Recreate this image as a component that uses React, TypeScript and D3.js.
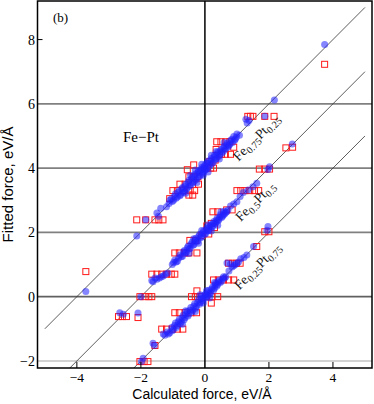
import React from "react";
import * as d3 from "d3";

type P = [number, number];

// Composition groups, shifted vertically for clarity
const groupNames = ["Fe0.75Pt0.25", "Fe0.5Pt0.5", "Fe0.25Pt0.75"];
const groupOffsets = [4, 2, 0];

// [calculated force, fitted force] (unshifted)
const blueA: P[] = [[3.74,3.85],[2.17,2.12],[1.87,1.61],[1.38,1.48],[1.32,1.40],[1.28,1.52],[1.08,1.02],[1.0,1.06],[0.95,0.9],[0.9,0.98],[0.86,0.8],[0.8,0.86],[0.75,0.7],[0.7,0.78],[0.66,0.62],[0.6,0.68],[0.56,0.5],[0.5,0.58],[0.46,0.4],[0.4,0.5],[0.36,0.3],[0.3,0.4],[0.26,0.18],[0.2,0.3],[0.16,0.1],[0.1,0.22],[0.06,-0.02],[0.0,0.1],[-0.04,-0.12],[-0.1,0.02],[-0.14,-0.22],[-0.2,-0.08],[-0.24,-0.3],[-0.3,-0.18],[-0.34,-0.42],[-0.4,-0.28],[-0.44,-0.52],[-0.5,-0.38],[-0.54,-0.6],[-0.6,-0.5],[-0.64,-0.72],[-0.7,-0.6],[-0.76,-0.82],[-0.8,-0.7],[-0.86,-0.9],[-0.92,-0.8],[-0.98,-1.0],[-1.05,-0.95],[-1.12,-1.1],[-1.2,-1.2],[-1.38,-1.25],[-1.45,-1.5],[-1.5,-1.4],[-1.85,-1.61],[-2.13,-2.11],[-3.72,-3.84],
  [0.98,0.96],[0.92,0.86],[0.84,0.9],[0.78,0.74],[0.72,0.66],[0.68,0.72],[0.62,0.56],[0.58,0.62],[0.52,0.46],[0.48,0.52],[0.42,0.36],[0.38,0.44],[0.32,0.26],[0.28,0.34],[0.22,0.14],[0.18,0.24],[0.12,0.04],[0.08,0.14],[0.02,-0.06],[-0.02,0.04],[-0.08,-0.16],[-0.12,-0.04],[-0.18,-0.26],[-0.22,-0.14],[-0.28,-0.36],[-0.32,-0.24],[-0.38,-0.46],[-0.42,-0.34],[-0.48,-0.56],[-0.52,-0.44],[-0.58,-0.66],[-0.62,-0.56],[-0.68,-0.76],[-0.72,-0.64],[-0.78,-0.86],[-0.84,-0.76],[-0.9,-0.94],[-0.96,-0.88],[-1.02,-1.04],[-1.1,-1.0],[0.06,0.16],[-0.06,-0.02],[0.0,-0.04],[-0.16,-0.12],
  [0.2,0.4],[0.1,-0.12],[-0.1,0.12],[-0.05,-0.22],[0.35,0.52],[-0.3,-0.06],[-0.25,-0.45],[0.45,0.28],[-0.45,-0.22],[-0.6,-0.78],[0.6,0.8]];
const redA: P[] = [[3.74,3.23],[1.34,1.61],[1.42,1.61],[1.5,1.61],[1.87,1.61],[2.16,1.61],[0.37,0.82],[0.5,0.82],[0.65,0.82],[0.78,0.82],[0.52,0.43],[0.64,0.43],[0.8,0.43],[0.06,0.0],[0.18,0.0],[0.27,0.0],[-0.35,0.1],[-0.5,-0.27],[-0.36,-0.27],[-0.22,-0.27],[0.15,0.2],[0.32,0.25],[-0.55,-0.05],[-0.78,-0.5],[-0.62,-0.5],[-0.2,-0.5],[-1.0,-0.7],[-0.86,-0.7],[-0.68,-0.7],[-0.46,-0.7],[-0.32,-0.7],[-0.5,-0.84],[-0.38,-0.84],[-2.13,-1.61],[-1.85,-1.61],[-1.56,-1.61],[-1.44,-1.61],[-1.31,-1.61],[-3.72,-3.22],[-1.1,-0.95],[0.9,0.65],[0.35,0.58]];

const blueB: P[] = [[2.73,2.75],[2.02,2.04],[1.97,1.96],[1.62,1.53],[1.5,1.42],[1.35,1.32],[1.2,1.24],[1.1,1.12],[1.0,0.95],[0.9,0.88],[0.8,0.82],[0.72,0.7],[0.65,0.62],[0.6,0.66],[0.55,0.5],[0.48,0.55],[0.44,0.4],[0.38,0.44],[0.34,0.3],[0.28,0.34],[0.24,0.18],[0.18,0.24],[0.12,0.06],[0.06,0.14],[0.02,-0.04],[-0.04,0.04],[-0.1,-0.14],[-0.16,-0.06],[-0.22,-0.26],[-0.28,-0.18],[-0.34,-0.38],[-0.4,-0.3],[-0.46,-0.5],[-0.52,-0.42],[-0.58,-0.62],[-0.64,-0.56],[-0.7,-0.74],[-0.78,-0.7],[-0.86,-0.9],[-0.94,-0.86],[-1.02,-1.0],[-1.16,-1.26],[-1.3,-1.36],[-1.42,-1.42],[-1.56,-1.42],[-1.62,-1.54],[-1.66,-1.5],[-2.0,-2.0],[-2.09,-2.51],[-2.66,-2.5],[-2.55,-2.55],
  [0.68,0.64],[0.62,0.58],[0.58,0.54],[0.52,0.46],[0.46,0.48],[0.41,0.36],[0.36,0.38],[0.31,0.26],[0.26,0.28],[0.21,0.16],[0.15,0.18],[0.09,0.04],[0.04,0.08],[-0.01,-0.06],[-0.07,-0.02],[-0.13,-0.16],[-0.19,-0.12],[-0.25,-0.28],[-0.31,-0.24],[-0.37,-0.4],[-0.43,-0.36],[-0.49,-0.52],[-0.55,-0.48],[-0.61,-0.64],[-0.67,-0.6],[-0.74,-0.76],[-0.82,-0.8],[-0.9,-0.92],[-0.98,-0.94],[-1.24,-1.3],[-1.36,-1.38],[-1.5,-1.46],
  [0.1,0.24],[-0.1,0.06],[0.2,0.04],[-0.2,-0.34],[-0.35,-0.2],[0.4,0.22],[-0.5,-0.66],[0.5,0.64]];
const redB: P[] = [[2.53,2.63],[2.74,2.65],[1.7,1.97],[1.87,1.97],[2.02,1.97],[1.0,1.3],[1.12,1.3],[1.25,1.3],[1.4,1.3],[1.55,1.3],[1.68,1.3],[0.68,0.7],[0.85,0.7],[0.25,0.64],[0.4,0.64],[0.06,0.2],[0.2,0.28],[0.3,0.15],[-0.1,-0.1],[0.12,-0.05],[-0.47,-0.25],[-0.3,-0.25],[-0.94,-0.64],[-0.8,-0.64],[-0.63,-0.64],[-0.5,-0.64],[-0.25,-0.64],[-1.66,-1.3],[-1.5,-1.3],[-1.35,-1.3],[-1.2,-1.3],[-1.05,-1.3],[-0.94,-1.3],[-2.03,-2.0],[-1.87,-2.0],[-1.75,-2.0],[-1.66,-2.0],[-2.7,-2.62],[-2.58,-2.62],[-2.45,-2.62],[-2.09,-2.65]];

const blueC: P[] = [[1.94,2.07],[1.97,2.18],[1.52,1.56],[1.31,1.3],[1.22,1.22],[1.12,1.18],[1.05,1.08],[0.95,1.0],[0.85,0.92],[0.75,0.8],[0.69,1.05],[0.8,1.02],[0.65,0.62],[0.58,0.62],[0.52,0.48],[0.45,0.52],[0.4,0.38],[0.34,0.42],[0.3,0.26],[0.24,0.3],[0.18,0.12],[0.12,0.2],[0.08,0.02],[0.02,0.08],[-0.04,-0.06],[-0.1,0.02],[-0.14,-0.18],[-0.2,-0.1],[-0.26,-0.3],[-0.32,-0.22],[-0.38,-0.42],[-0.44,-0.34],[-0.5,-0.54],[-0.56,-0.46],[-0.62,-0.66],[-0.68,-0.58],[-0.74,-0.78],[-0.8,-0.7],[-0.86,-0.9],[-0.92,-0.82],[-0.98,-1.02],[-1.04,-0.96],[-1.1,-1.12],[-1.18,-1.1],[-1.25,-1.2],[-1.3,-1.16],[-1.62,-1.45],[-1.58,-1.52],[-1.93,-1.92],[-1.98,-2.02],
  [0.62,0.58],[0.55,0.56],[0.48,0.44],[0.42,0.46],[0.37,0.32],[0.32,0.36],[0.27,0.2],[0.21,0.24],[0.15,0.08],[0.1,0.12],[0.05,-0.02],[0.0,0.04],[-0.06,-0.12],[-0.12,-0.06],[-0.17,-0.24],[-0.23,-0.18],[-0.29,-0.36],[-0.35,-0.3],[-0.41,-0.48],[-0.47,-0.42],[-0.53,-0.6],[-0.59,-0.54],[-0.65,-0.72],[-0.71,-0.66],[-0.77,-0.84],[-0.83,-0.78],[-0.89,-0.96],[-0.95,-0.9],[-1.02,-1.06],[-1.14,-1.16],[0.9,0.96],[1.0,1.04],
  [0.05,0.18],[-0.05,-0.2],[0.15,-0.04],[-0.15,0.06],[-0.3,-0.46],[0.3,0.44],[-0.6,-0.44],[-0.7,-0.86]];
const redC: P[] = [[1.87,2.02],[2.0,2.02],[1.62,1.56],[0.74,1.04],[0.86,1.04],[0.98,1.04],[1.1,1.04],[0.27,0.52],[0.42,0.52],[0.58,0.52],[0.74,0.52],[0.9,0.52],[-0.42,0.0],[-0.3,0.0],[-0.16,0.0],[0.04,0.0],[0.22,0.0],[0.4,0.0],[-0.94,-0.5],[-0.8,-0.5],[-0.62,-0.5],[-0.44,-0.5],[-0.26,-0.5],[-1.35,-1.01],[-1.2,-1.01],[-1.02,-1.01],[-0.86,-1.01],[-0.69,-1.01],[-1.56,-1.52],[-2.03,-2.02],[-1.9,-2.02],[-1.78,-2.02],[-0.25,0.18],[0.2,-0.2]];

const blueSets = [blueA, blueB, blueC];
const redSets = [redA, redB, redC];

const xTicks = [-4, -2, 0, 2, 4];
const yTicks = [-2, 0, 2, 4, 6, 8];
const gridYs = [-2, 0, 2, 4, 6];
const lineRange = [-5, 5];
// label anchor positions (calculated, fitted) per group
const labelAnchors: P[] = [[1.05, 4.2], [1.12, 2.32], [1.08, 0.2]];

const W = 374, H = 404;
const L = 37.5, R = 372, T = 1, B = 368;

const serif = "'Liberation Serif', 'Times New Roman', serif";
const sans = "'Liberation Sans', Arial, sans-serif";

function Label({ name }: { name: string }) {
  const m = name.match(/^(Fe)([\d.]+)(Pt)([\d.]+)$/)!;
  return (
    <>
      <tspan fontSize={13.5}>{m[1]}</tspan>
      <tspan fontSize={10} dy={3}>{m[2]}</tspan>
      <tspan fontSize={13.5} dy={-3}>{m[3]}</tspan>
      <tspan fontSize={10} dy={3}>{m[4]}</tspan>
    </>
  );
}

export default function App() {
  const x = d3.scaleLinear().domain([-5.23, 5.22]).range([L, R]);
  const y = d3.scaleLinear().domain([-2.22, 9.2]).range([B, T]);
  const line = d3.line<P>().x(d => x(d[0])).y(d => y(d[1]));
  const gridColor = (v: number) => (v === 0 ? "#606060" : v === -2 ? "#c4c4c4" : "#808080");

  return (
    <svg width={W} height={H} style={{ position: "absolute", left: 0, top: 0, background: "#fff" }}>
      <defs>
        <clipPath id="plot">
          <rect x={L} y={T} width={R - L} height={B - T} />
        </clipPath>
      </defs>
      <rect x={0} y={0} width={W} height={H} fill="#fff" />
      <g clipPath="url(#plot)">
        {gridYs.map(v => (
          <line key={v} x1={L} x2={R} y1={y(v)} y2={y(v)} stroke={gridColor(v)} strokeWidth={1.6} />
        ))}
        <line x1={x(0)} x2={x(0)} y1={T} y2={B} stroke="#000" strokeWidth={1.5} />
        {groupOffsets.map((o, i) => (
          <path key={i} d={line(lineRange.map(v => [v, v + o] as P))!} stroke="#333" strokeWidth={0.8} fill="none" />
        ))}
        {redSets.map((s, i) =>
          s.map((d, j) => (
            <rect key={`r${i}-${j}`} x={x(d[0]) - 3} y={y(d[1] + groupOffsets[i]) - 3} width={6} height={6}
              fill="none" stroke="#ff1a1a" strokeWidth={1} />
          ))
        )}
        {blueSets.map((s, i) =>
          s.map((d, j) => (
            <circle key={`b${i}-${j}`} cx={x(d[0])} cy={y(d[1] + groupOffsets[i])} r={3.5}
              fill="#2020ff" fillOpacity={0.55} />
          ))
        )}
      </g>
      {xTicks.filter(v => v !== 0).map(v => (
        <line key={v} x1={x(v)} x2={x(v)} y1={B} y2={B - 6} stroke="#000" strokeWidth={1} />
      ))}
      <line x1={L} x2={L + 5} y1={y(8)} y2={y(8)} stroke="#000" strokeWidth={1} />
      <rect x={L} y={T} width={R - L} height={B - T} fill="none" stroke="#000" strokeWidth={1.5} />
      {xTicks.map(v => (
        <text key={v} x={x(v)} y={381.5} textAnchor="middle" fontFamily={serif} fontSize={13.5}>
          {v < 0 ? `\u2212${-v}` : v}
        </text>
      ))}
      {yTicks.map(v => (
        <text key={v} x={35} y={y(v) + 5} textAnchor="end" fontFamily={serif} fontSize={14}>
          {v < 0 ? `\u2212${-v}` : v}
        </text>
      ))}
      <text x={53} y={21.5} fontFamily={serif} fontSize={13}>(b)</text>
      <text x={123} y={141.5} fontFamily={serif} fontSize={15}>Fe{"\u2212"}Pt</text>
      {groupNames.map((n, i) => {
        const px = x(labelAnchors[i][0]);
        const py = y(labelAnchors[i][1]);
        return (
          <text key={n} transform={`translate(${px},${py}) rotate(-45)`} fontFamily={serif} fill="#111">
            <Label name={n} />
          </text>
        );
      })}
      <text x={202} y={398.5} textAnchor="middle" fontFamily={sans} fontSize={14}>Calculated force, eV/Å</text>
      <text transform={`translate(13,184.5) rotate(-90)`} textAnchor="middle" fontFamily={sans} fontSize={15}>
        Fitted force, eV/Å
      </text>
    </svg>
  );
}
